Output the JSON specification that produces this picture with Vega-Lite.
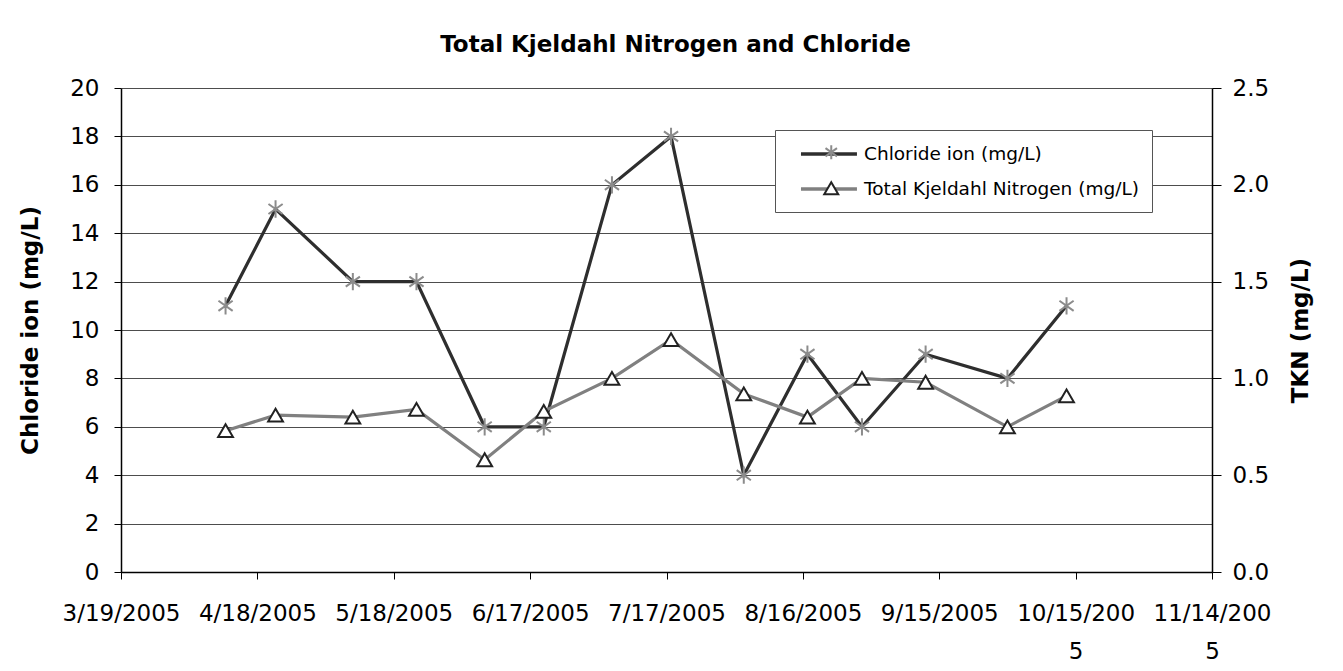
{
  "$schema": "https://vega.github.io/schema/vega-lite/v6.json",
  "width": 1091,
  "height": 484,
  "autosize": {"type": "none"},
  "padding": {"left": 121, "top": 88, "right": 131, "bottom": 99},
  "background": "white",
  "title": {
    "text": "Total Kjeldahl Nitrogen and Chloride",
    "font": "DejaVu Sans",
    "fontSize": 23,
    "fontWeight": "bold",
    "color": "black",
    "anchor": "middle",
    "frame": "group",
    "offset": 20,
    "dx": 9
  },
  "config": {
    "view": {"stroke": null},
    "axis": {
      "labelFont": "DejaVu Sans",
      "labelFontSize": 23,
      "labelColor": "black",
      "titleFont": "DejaVu Sans",
      "titleFontSize": 23,
      "titleFontWeight": "bold",
      "titleColor": "black",
      "domainColor": "black",
      "domainWidth": 1.5,
      "tickColor": "black",
      "tickWidth": 1,
      "tickSize": 7
    },
    "legend": {
      "labelFont": "DejaVu Sans",
      "labelFontSize": 18.5,
      "labelColor": "black",
      "labelLimit": 500
    }
  },
  "data": {
    "values": [
      {"date": "2005-04-11", "series": "Chloride ion (mg/L)", "value": 11},
      {"date": "2005-04-22", "series": "Chloride ion (mg/L)", "value": 15},
      {"date": "2005-05-09", "series": "Chloride ion (mg/L)", "value": 12},
      {"date": "2005-05-23", "series": "Chloride ion (mg/L)", "value": 12},
      {"date": "2005-06-07", "series": "Chloride ion (mg/L)", "value": 6},
      {"date": "2005-06-20", "series": "Chloride ion (mg/L)", "value": 6},
      {"date": "2005-07-05", "series": "Chloride ion (mg/L)", "value": 16},
      {"date": "2005-07-18", "series": "Chloride ion (mg/L)", "value": 18},
      {"date": "2005-08-03", "series": "Chloride ion (mg/L)", "value": 4},
      {"date": "2005-08-17", "series": "Chloride ion (mg/L)", "value": 9},
      {"date": "2005-08-29", "series": "Chloride ion (mg/L)", "value": 6},
      {"date": "2005-09-12", "series": "Chloride ion (mg/L)", "value": 9},
      {"date": "2005-09-30", "series": "Chloride ion (mg/L)", "value": 8},
      {"date": "2005-10-13", "series": "Chloride ion (mg/L)", "value": 11},
      {"date": "2005-04-11", "series": "Total Kjeldahl Nitrogen (mg/L)", "value": 0.73},
      {"date": "2005-04-22", "series": "Total Kjeldahl Nitrogen (mg/L)", "value": 0.81},
      {"date": "2005-05-09", "series": "Total Kjeldahl Nitrogen (mg/L)", "value": 0.80},
      {"date": "2005-05-23", "series": "Total Kjeldahl Nitrogen (mg/L)", "value": 0.84},
      {"date": "2005-06-07", "series": "Total Kjeldahl Nitrogen (mg/L)", "value": 0.58},
      {"date": "2005-06-20", "series": "Total Kjeldahl Nitrogen (mg/L)", "value": 0.83},
      {"date": "2005-07-05", "series": "Total Kjeldahl Nitrogen (mg/L)", "value": 1.0},
      {"date": "2005-07-18", "series": "Total Kjeldahl Nitrogen (mg/L)", "value": 1.2},
      {"date": "2005-08-03", "series": "Total Kjeldahl Nitrogen (mg/L)", "value": 0.92},
      {"date": "2005-08-17", "series": "Total Kjeldahl Nitrogen (mg/L)", "value": 0.80},
      {"date": "2005-08-29", "series": "Total Kjeldahl Nitrogen (mg/L)", "value": 1.0},
      {"date": "2005-09-12", "series": "Total Kjeldahl Nitrogen (mg/L)", "value": 0.98},
      {"date": "2005-09-30", "series": "Total Kjeldahl Nitrogen (mg/L)", "value": 0.75},
      {"date": "2005-10-13", "series": "Total Kjeldahl Nitrogen (mg/L)", "value": 0.91}
    ]
  },
  "encoding": {
    "x": {
      "field": "date",
      "type": "temporal",
      "scale": {
        "type": "utc",
        "domain": [
          {"year": 2005, "month": 3, "date": 19, "utc": true},
          {"year": 2005, "month": 11, "date": 14, "utc": true}
        ]
      },
      "axis": {
        "title": null,
        "grid": false,
        "values": [
          {"year": 2005, "month": 3, "date": 19, "utc": true},
          {"year": 2005, "month": 4, "date": 18, "utc": true},
          {"year": 2005, "month": 5, "date": 18, "utc": true},
          {"year": 2005, "month": 6, "date": 17, "utc": true},
          {"year": 2005, "month": 7, "date": 17, "utc": true},
          {"year": 2005, "month": 8, "date": 16, "utc": true},
          {"year": 2005, "month": 9, "date": 15, "utc": true},
          {"year": 2005, "month": 10, "date": 15, "utc": true},
          {"year": 2005, "month": 11, "date": 14, "utc": true}
        ],
        "format": "%-m/%-d/%Y",
        "labelExpr": "length(datum.label) > 9 ? [slice(datum.label, 0, 9), slice(datum.label, 9)] : datum.label",
        "labelPadding": 23,
        "labelBaseline": "top",
        "labelLineHeight": 38,
        "labelOverlap": false,
        "labelFlush": false,
        "labelBound": false
      }
    }
  },
  "layer": [
    {
      "transform": [{"filter": "datum.series === 'Chloride ion (mg/L)'"}],
      "encoding": {
        "y": {
          "field": "value",
          "type": "quantitative",
          "scale": {"domain": [0, 20], "nice": false, "zero": true},
          "axis": {
            "orient": "left",
            "title": "Chloride ion (mg/L)",
            "values": [0, 2, 4, 6, 8, 10, 12, 14, 16, 18, 20],
            "grid": true,
            "gridColor": "#4d4d4d",
            "gridWidth": 1.2,
            "gridOpacity": 1,
            "labelPadding": 15,
            "titleX": -91,
            "titleBaseline": "middle"
          }
        }
      },
      "layer": [
        {
          "mark": {"type": "line", "strokeWidth": 3.2},
          "encoding": {
            "color": {
              "field": "series",
              "type": "nominal",
              "scale": {
                "domain": ["Chloride ion (mg/L)", "Total Kjeldahl Nitrogen (mg/L)"],
                "range": ["#2e2e2e", "#808080"]
              },
              "legend": {
                "orient": "none",
                "legendX": 654,
                "legendY": 42,
                "title": null,
                "symbolType": "M0.22,0H6.44",
                "symbolSize": 324,
                "symbolStrokeWidth": 3.5,
                "labelOffset": 54,
                "padding": 13,
                "rowPadding": 14,
                "fillColor": "white",
                "strokeColor": "#555555",
                "cornerRadius": 0
              }
            }
          }
        },
        {
          "mark": {"type": "point", "filled": true, "fill": "white", "strokeWidth": 2, "size": 300, "opacity": 1},
          "encoding": {
            "stroke": {
              "field": "series",
              "type": "nominal",
              "scale": {"range": ["#8c8c8c", "#222222"]},
              "legend": {
                "orient": "none",
                "legendX": 688,
                "legendY": 42,
                "title": null,
                "symbolSize": 196,
                "symbolStrokeWidth": 2,
                "symbolFillColor": "white",
                "labelExpr": "' '",
                "padding": 13,
                "rowPadding": 14
              }
            },
            "shape": {
              "field": "series",
              "type": "nominal",
              "scale": {"range": ["M0,-1V1M-0.82,-0.58L0.82,0.58M-0.82,0.58L0.82,-0.58", "triangle-up"]},
              "legend": {
                "orient": "none",
                "legendX": 688,
                "legendY": 42,
                "title": null,
                "symbolSize": 196,
                "symbolStrokeWidth": 2,
                "symbolFillColor": "white",
                "labelExpr": "' '",
                "padding": 13,
                "rowPadding": 14
              }
            }
          }
        }
      ]
    },
    {
      "transform": [{"filter": "datum.series === 'Total Kjeldahl Nitrogen (mg/L)'"}],
      "encoding": {
        "y": {
          "field": "value",
          "type": "quantitative",
          "scale": {"domain": [0, 2.5], "nice": false, "zero": true},
          "axis": {
            "orient": "right",
            "title": "TKN (mg/L)",
            "values": [0, 0.5, 1, 1.5, 2, 2.5],
            "format": ".1f",
            "grid": false,
            "tickSize": 9,
            "labelPadding": 11,
            "titleAngle": 270,
            "titleX": 88,
            "titleBaseline": "middle"
          }
        }
      },
      "layer": [
        {
          "mark": {"type": "line", "strokeWidth": 3.2},
          "encoding": {
            "color": {"field": "series", "type": "nominal"}
          }
        },
        {
          "mark": {"type": "point", "filled": true, "fill": "white", "strokeWidth": 2, "size": 220, "opacity": 1},
          "encoding": {
            "stroke": {"field": "series", "type": "nominal"},
            "shape": {"field": "series", "type": "nominal"}
          }
        }
      ]
    }
  ],
  "resolve": {"scale": {"y": "independent"}}
}
